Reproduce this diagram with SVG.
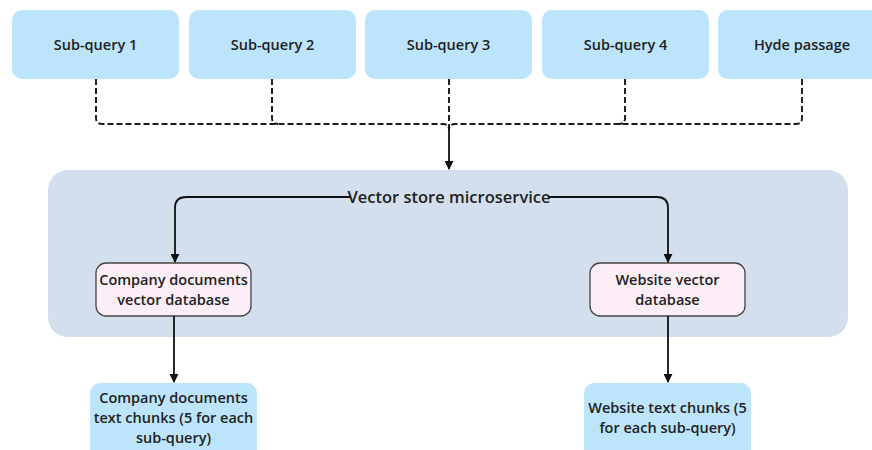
<svg xmlns="http://www.w3.org/2000/svg" width="872" height="450" viewBox="0 0 872 450">
  <defs>
    <marker id="arrow" viewBox="0 0 10 10" refX="9" refY="5" markerWidth="9" markerHeight="9" markerUnits="userSpaceOnUse" orient="auto">
      <path d="M0,0 L10,5 L0,10 Z" fill="#111"/>
    </marker>
    <style>
      .query { fill: #BCE4FA; }
      .db { fill: #FCEEF7; stroke: #444; stroke-width: 1.3; }
      .txt { font-family: "Open Sans", "Liberation Sans", sans-serif; font-weight: 600; font-size: 14.5px; fill: #222; text-anchor: middle; }
      .dash { fill: none; stroke: #1a1a1a; stroke-width: 1.9; stroke-dasharray: 6 3; }
      .solid { fill: none; stroke: #111; stroke-width: 1.8; }
    </style>
  </defs>
  <rect width="872" height="450" fill="#fff"/>

  <!-- container -->
  <g id="vector-store">
    <rect x="48" y="170" width="800" height="167" rx="20" fill="#D4DFEE"/>
    <text class="txt" x="449" y="202.5" style="font-size:16.5px">Vector store microservice</text>
  </g>

  <!-- query nodes -->
  <g id="subquery1"><rect class="query" x="12" y="10" width="167" height="69" rx="10"/><text class="txt" x="95.5" y="50">Sub-query 1</text></g>
  <g id="subquery2"><rect class="query" x="189" y="10" width="167" height="69" rx="10"/><text class="txt" x="272.5" y="50">Sub-query 2</text></g>
  <g id="subquery3"><rect class="query" x="365" y="10" width="167" height="69" rx="10"/><text class="txt" x="448.5" y="50">Sub-query 3</text></g>
  <g id="subquery4"><rect class="query" x="542" y="10" width="167" height="69" rx="10"/><text class="txt" x="625.5" y="50">Sub-query 4</text></g>
  <g id="hyde"><rect class="query" x="718" y="10" width="170" height="69" rx="10"/><text class="txt" x="802" y="50">Hyde passage</text></g>

  <!-- database nodes -->
  <g id="company-db">
    <rect class="db" x="96" y="263" width="155" height="53" rx="10"/>
    <text class="txt" x="173.5" y="284.5">Company documents</text>
    <text class="txt" x="173.5" y="304.5">vector database</text>
  </g>
  <g id="website-db">
    <rect class="db" x="590" y="263" width="155" height="53" rx="10"/>
    <text class="txt" x="667.5" y="284.5">Website vector</text>
    <text class="txt" x="667.5" y="304.5">database</text>
  </g>

  <!-- result nodes -->
  <g id="company-chunks">
    <rect class="query" x="90" y="383" width="167" height="75" rx="10"/>
    <text class="txt" x="173.5" y="403">Company documents</text>
    <text class="txt" x="173.5" y="423">text chunks (5 for each</text>
    <text class="txt" x="173.5" y="443">sub-query)</text>
  </g>
  <g id="website-chunks">
    <rect class="query" x="584" y="383" width="167" height="75" rx="10"/>
    <text class="txt" x="667.5" y="413">Website text chunks (5</text>
    <text class="txt" x="667.5" y="433">for each sub-query)</text>
  </g>

  <!-- connectors -->
  <g id="connectors">
    <path class="dash" d="M96,79 V118 Q96,124 102,124 H443 Q449,124 449,130"/>
    <path class="dash" d="M272,79 V118 Q272,124 278,124"/>
    <path class="dash" d="M449,79 V124"/>
    <path class="dash" d="M625,79 V118 Q625,124 619,124"/>
    <path class="dash" d="M802,79 V118 Q802,124 796,124 H455 Q449,124 449,130"/>
    <path class="solid" d="M449,124 V169" marker-end="url(#arrow)"/>
    <path class="solid" d="M350,197 H186 Q175,197 175,208 V262" marker-end="url(#arrow)"/>
    <path class="solid" d="M548,197 H657 Q668,197 668,208 V262" marker-end="url(#arrow)"/>
    <path class="solid" d="M174,316 V382" marker-end="url(#arrow)"/>
    <path class="solid" d="M668,316 V382" marker-end="url(#arrow)"/>
  </g>
</svg>
